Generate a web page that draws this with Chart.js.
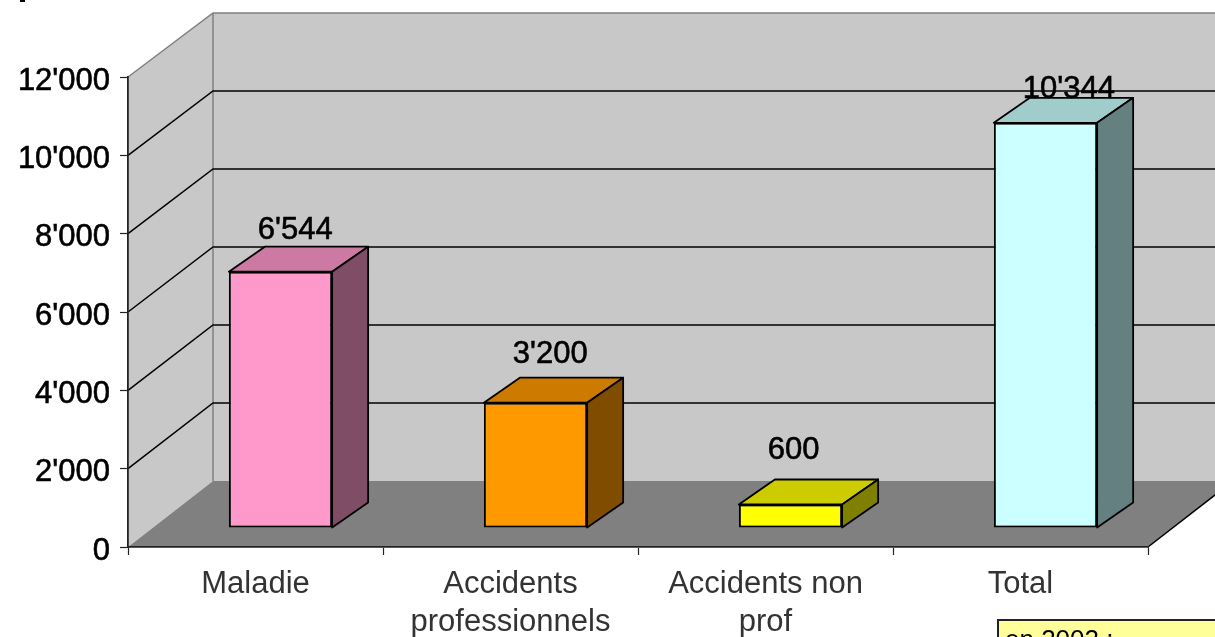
<!DOCTYPE html>
<html><head><meta charset="utf-8">
<style>html,body{margin:0;padding:0;background:#fff;overflow:hidden}#w{width:1215px;height:637px;position:relative}canvas{filter:blur(.45px)}</style>
<script src="https://cdn.jsdelivr.net/npm/chart.js@4"></script>
</head><body><div id="w"><canvas id="c"></canvas></div>
<script>
const categories = [["Maladie"], ["Accidents","professionnels"], ["Accidents non","prof"], ["Total"]];
const values = [6544, 3200, 600, 10344];
const frontColors = ["#FF99CC","#FF9900","#FFFF00","#CCFFFF"];
const topColors = ["#CC7AA3","#CC7A00","#CCCC00","#A0CCCC"];
const sideColors = ["#804D66","#804D00","#808000","#648080"];
const valueLabels = ["6'544","3'200","600","10'344"];
const noteText = "en 2002 :";
const FONT = '"Liberation Sans", Arial, sans-serif';
const WALL = {dx:85, dy:-66}, BAR_SHIFT = {dx:25, dy:-19}, BAR_DEPTH = {dx:36, dy:-25};

function poly(ctx, pts, fill, stroke, lw){
  ctx.beginPath();
  pts.forEach((p,i)=> i?ctx.lineTo(p[0],p[1]):ctx.moveTo(p[0],p[1]));
  ctx.closePath();
  if(fill){ctx.fillStyle=fill;ctx.fill();}
  if(stroke){ctx.strokeStyle=stroke;ctx.lineWidth=lw||1;ctx.lineJoin='round';ctx.stroke();}
}
const scene = {
  id:'scene',
  beforeDraw(chart){
    const {ctx, chartArea:a, scales:{y}, width} = chart;
    const y0 = y.getPixelForValue(0), yT = y.getPixelForValue(12000);
    const back = p => y0+WALL.dy-(y0-p)*0.996;
    const bx = a.left+WALL.dx, bt = back(yT), bb = back(y0);
    ctx.save();
    poly(ctx,[[bx,bt],[width+10,bt],[width+10,bb],[bx,bb]],'#C8C8C8');
    poly(ctx,[[a.left,yT],[bx,bt],[bx,bb],[a.left,y0]],'#C8C8C8');
    poly(ctx,[[a.left,y0],[bx,bb],[width+10,bb],[a.right+WALL.dx,bb],[a.right,y0]],'#808080');
    ctx.strokeStyle='#808080';ctx.lineWidth=1.5;
    ctx.beginPath();ctx.moveTo(a.left,yT);ctx.lineTo(bx,bt);ctx.lineTo(width+10,bt);ctx.moveTo(bx,bt);ctx.lineTo(bx,bb);ctx.stroke();
    ctx.strokeStyle='#000';ctx.lineWidth=1.5;
    y.ticks.forEach(t=>{
      if(t.value===0||t.value===12000)return;
      const p=y.getPixelForValue(t.value), q=back(p);
      ctx.beginPath();ctx.moveTo(a.left,p);ctx.lineTo(bx,q);ctx.lineTo(width+10,q);ctx.stroke();
    });
    ctx.beginPath();ctx.moveTo(a.right,y0);ctx.lineTo(a.right+WALL.dx,bb);ctx.stroke();
    ctx.restore();
  },
  beforeDatasetsDraw(chart){
    chart.ctx.save();
    chart.ctx.translate(BAR_SHIFT.dx,BAR_SHIFT.dy);
  },
  afterDatasetsDraw(chart){
    const {ctx,scales:{y}} = chart;
    chart.getDatasetMeta(0).data.forEach((b,i)=>{
      const l=b.x-b.width/2,r=b.x+b.width/2,t=b.y,base=b.base,d=BAR_DEPTH;
      poly(ctx,[[l,t],[l+d.dx,t+d.dy],[r+d.dx,t+d.dy],[r,t]],topColors[i],'#000',1.8);
      poly(ctx,[[r,t],[r+d.dx,t+d.dy],[r+d.dx,base+d.dy],[r,base]],sideColors[i],'#000',1.8);
    });
    ctx.restore();
    ctx.save();
    ctx.font='31px '+FONT;ctx.fillStyle='#000';ctx.strokeStyle='#000';ctx.lineWidth=.6;ctx.textAlign='left';ctx.textBaseline='alphabetic';
    chart.getDatasetMeta(0).data.forEach((b,i)=>{
      const by=y.getPixelForValue(values[i]*0.945)+WALL.dy;
      const lx=b.x-b.width/2+BAR_SHIFT.dx+29;
      ctx.fillText(valueLabels[i],lx,by);
      ctx.strokeText(valueLabels[i],lx,by);
    });
    ctx.restore();
  },
  afterDraw(chart){
    const {ctx,width,height}=chart;
    ctx.save();
    ctx.fillStyle='#FFFF99';ctx.fillRect(998,620,width-998,height-620);
    ctx.strokeStyle='#222';ctx.lineWidth=2;
    ctx.beginPath();ctx.moveTo(998,height+2);ctx.lineTo(998,620);ctx.lineTo(width+2,620);ctx.stroke();
    ctx.fillStyle='#000';ctx.font='26px '+FONT;ctx.textBaseline='alphabetic';
    ctx.fillText(noteText,1005,648);
    ctx.fillRect(20,0,5,2);
    ctx.restore();
  }
};
new Chart(document.getElementById('c'),{
  type:'bar',
  data:{labels:categories,datasets:[{data:values,backgroundColor:frontColors,borderColor:'#000',borderWidth:2,borderSkipped:false,barPercentage:0.405,categoryPercentage:1}]},
  plugins:[scene],
  options:{
    responsive:true,maintainAspectRatio:false,animation:false,
    layout:{padding:{top:77,right:67,left:0,bottom:0}},
    plugins:{legend:{display:false},tooltip:{enabled:false},title:{display:false}},
    scales:{
      x:{
        afterFit(s){s.height=90;},
        border:{color:'#222',width:1.8},
        grid:{drawOnChartArea:false,color:'#222',tickLength:8,tickWidth:1.2},
        ticks:{color:'#333',font:{size:31,family:FONT,lineHeight:1.22},padding:11,maxRotation:0,autoSkip:false}
      },
      y:{
        min:0,max:12000,
        afterFit(s){s.width=128;},
        border:{color:'#222',width:1.8},
        grid:{drawOnChartArea:false,color:'#222',tickLength:8,tickWidth:1.2},
        ticks:{stepSize:2000,color:'#000',font:{size:31,family:FONT},padding:10,labelOffset:4,textStrokeColor:'#000',textStrokeWidth:.6,
          callback:v=>v===0?'0':Math.floor(v/1000)+"'"+String(v%1000).padStart(3,'0')}
      }
    }
  }
});
</script></body></html>
